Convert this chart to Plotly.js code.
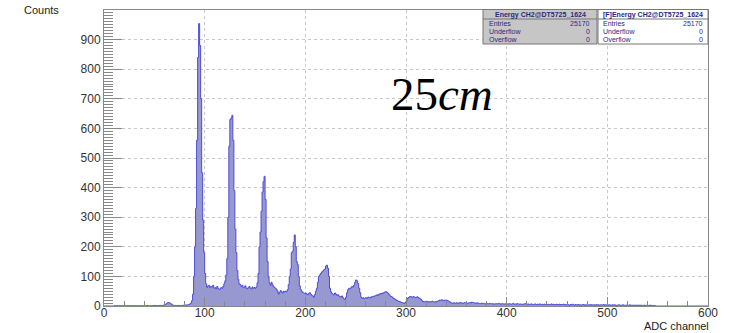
<!DOCTYPE html>
<html>
<head>
<meta charset="utf-8">
<script src="https://cdn.plot.ly/plotly-3.0.1.min.js"></script>
<style>html,body{margin:0;padding:0;background:#fff;}#chart{width:730px;height:333px;}</style>
</head>
<body>
<div id="chart"></div>
<script>
// Histogram counts per ADC channel (bin width 1, channels 0..599)
const counts = [
 0,0,0,0,0,0,0,0,0,0,
 1,0,1,1,0,1,1,0,1,1,
 1,1,0,1,1,1,0,1,1,1,
 1,1,1,0,1,1,1,1,0,1,
 1,1,1,2,1,1,1,1,1,2,
 1,2,1,1,2,1,2,2,2,3,
 4,6,9,11,12,10,8,5,3,2,
 2,2,1,2,2,1,2,2,2,3,
 3,3,4,4,5,7,10,18,40,100,
 200,330,560,840,954,880,700,450,290,180,
 110,75,62,68,70,62,66,64,70,60,
 62,58,66,60,56,58,62,60,66,75,
 85,105,160,300,540,630,635,644,560,390,
 260,180,120,90,75,72,66,70,62,64,
 68,60,58,62,66,60,58,64,60,62,
 60,64,78,110,200,250,320,385,420,438,
 360,230,150,100,78,70,80,72,66,62,
 60,56,50,40,46,52,48,44,50,47,
 50,48,55,72,100,125,180,185,215,240,
 200,150,140,100,68,56,50,46,44,42,
 44,40,38,42,45,40,36,34,30,38,
 50,60,80,100,105,110,115,118,122,125,
 135,138,128,100,60,48,42,40,38,44,
 40,36,38,34,32,30,34,28,24,22,
 30,45,55,60,58,62,66,64,70,80,
 88,85,76,60,45,30,26,28,25,27,
 28,26,30,29,27,31,30,33,32,35,
 36,38,35,40,42,40,44,43,46,48,
 48,46,42,38,34,32,30,26,25,22,
 20,18,16,15,14,12,11,10,9,12,
 18,26,28,30,32,31,29,32,30,28,
 30,31,28,26,24,20,16,15,14,15,
 16,14,15,13,14,15,16,14,13,15,
 14,16,18,20,19,21,20,18,20,19,
 20,18,16,14,12,10,9,11,10,9,
 11,10,9,12,10,11,9,10,12,11,
 10,9,11,12,10,13,12,11,10,9,
 11,10,9,8,9,10,8,9,7,8,
 9,8,7,9,8,7,8,6,7,8,
 7,8,9,7,6,8,7,7,6,8,
 7,6,8,7,6,7,9,6,7,6,
 8,7,6,7,6,5,7,6,8,7,
 6,7,5,6,7,6,5,6,7,5,
 6,5,7,6,5,6,4,6,5,6,
 5,6,4,5,7,5,6,4,5,6,
 5,4,6,5,4,5,6,4,5,4,
 5,4,3,5,4,6,4,3,5,4,
 4,5,3,4,3,4,5,3,4,3,
 4,3,4,5,3,4,3,4,3,5,
 3,4,3,4,4,3,5,3,4,3,
 4,3,4,3,3,4,3,4,3,2,
 3,4,3,2,3,4,3,2,3,3,
 2,3,4,2,3,2,3,3,2,3,
 2,3,2,3,2,2,3,2,2,3,
 2,2,3,2,2,1,2,1
];
const nBins = 600;
const xTickVals = [0,100,200,300,400,500,600];
const yTickVals = [0,100,200,300,400,500,600,700,800,900];
const statTitle1 = "Energy CH2@DT5725_1624";
const statTitle2 = "[F]Energy CH2@DT5725_1624";
const statLabels = ["Entries","Underflow","Overflow"];
const statValues1 = ["25170","0","0"];
const statValues2 = ["25170","0","0"];

// build step histogram
const xs = [], ys = [];
for (let i = 0; i < nBins; i++) {
  xs.push(i);
  ys.push(i < counts.length ? counts[i] : 0);
}
xs.push(nBins); ys.push(ys[ys.length-1]);

// plot area in pixels
const L = 104, R = 708, T = 10, B = 306;
const px = x => (x - L) / (R - L);
const py = y => (B - y) / (B - T);

const font = "Liberation Sans, Arial, sans-serif";
const boxText = "#2a2a80";

const shapes = [
  {type:'rect', xref:'paper', yref:'paper', x0:px(483), x1:px(597), y0:py(44), y1:py(9.5), fillcolor:'#c6c6c6', line:{color:'#777', width:1}, layer:'above'},
  {type:'line', xref:'paper', yref:'paper', x0:px(483), x1:px(597), y0:py(19), y1:py(19), line:{color:'#777', width:1}, layer:'above'},
  {type:'rect', xref:'paper', yref:'paper', x0:px(598), x1:px(708), y0:py(44), y1:py(9.5), fillcolor:'#ffffff', line:{color:'#777', width:1}, layer:'above'},
  {type:'line', xref:'paper', yref:'paper', x0:px(598), x1:px(708), y0:py(19), y1:py(19), line:{color:'#777', width:1}, layer:'above'}
];

const ann = [];
ann.push({xref:'paper', yref:'paper', x:px(540), y:py(14.5), text:'<b>'+statTitle1+'</b>', showarrow:false, xanchor:'center', yanchor:'middle', font:{family:font, size:7, color:boxText}});
ann.push({xref:'paper', yref:'paper', x:px(653), y:py(14.5), text:'<b>'+statTitle2+'</b>', showarrow:false, xanchor:'center', yanchor:'middle', font:{family:font, size:7, color:boxText}});
const rowY = [23.5, 31.5, 39.5];
for (let k = 0; k < statLabels.length; k++) {
  ann.push({xref:'paper', yref:'paper', x:px(487), y:py(rowY[k]), text:statLabels[k], showarrow:false, xanchor:'left', yanchor:'middle', font:{family:font, size:7, color:boxText}});
  ann.push({xref:'paper', yref:'paper', x:px(592), y:py(rowY[k]), text:statValues1[k], showarrow:false, xanchor:'right', yanchor:'middle', font:{family:font, size:7, color:boxText}});
  ann.push({xref:'paper', yref:'paper', x:px(601), y:py(rowY[k]), text:statLabels[k], showarrow:false, xanchor:'left', yanchor:'middle', font:{family:font, size:7, color:boxText}});
  ann.push({xref:'paper', yref:'paper', x:px(705), y:py(rowY[k]), text:statValues2[k], showarrow:false, xanchor:'right', yanchor:'middle', font:{family:font, size:7, color:boxText}});
}
ann.push({xref:'paper', yref:'paper', x:px(41), y:py(10), text:'Counts', showarrow:false, xanchor:'center', yanchor:'middle', font:{family:font, size:11, color:'#222'}});
ann.push({xref:'paper', yref:'paper', x:px(711), y:py(326), text:'ADC channel', showarrow:false, xanchor:'right', yanchor:'middle', font:{family:font, size:11, color:'#222'}});
ann.push({xref:'paper', yref:'paper', x:px(442), y:py(94), text:'25<i>cm</i>', showarrow:false, xanchor:'center', yanchor:'middle', font:{family:'Liberation Serif, DejaVu Serif, serif', size:47, color:'#000'}});

const trace = {
  x: xs, y: ys, type:'scatter', mode:'lines',
  line:{shape:'hv', color:'rgb(75,75,220)', width:1},
  fill:'tozeroy', fillcolor:'rgb(152,152,208)',
  hoverinfo:'skip'
};

const layout = {
  width:730, height:333,
  margin:{l:L, r:730-R, t:T, b:333-B, pad:0},
  paper_bgcolor:'#fff', plot_bgcolor:'#fff',
  showlegend:false,
  font:{family:font, size:12, color:'#333'},
  xaxis:{
    range:[0,600], tickmode:'array', tickvals:xTickVals,
    ticks:'inside', ticklen:9, tickcolor:'#888', tickwidth:1,
    ticklabelstandoff:-4,
    showgrid:true, gridcolor:'#c8c8c8', griddash:'3px,3px', gridwidth:1,
    showline:true, linecolor:'#888', linewidth:1, mirror:true,
    zeroline:false, tickfont:{family:font, size:12, color:'#333'},
    minor:{dtick:20, tick0:0, ticks:'inside', ticklen:5, tickcolor:'#888', showgrid:false}
  },
  yaxis:{
    range:[0,1000], tickmode:'array', tickvals:yTickVals,
    ticks:'inside', ticklen:18, tickcolor:'#888', tickwidth:1,
    showgrid:true, gridcolor:'#c8c8c8', griddash:'3px,3px', gridwidth:1,
    showline:true, linecolor:'#888', linewidth:1, mirror:true,
    zeroline:false, tickfont:{family:font, size:12, color:'#333'},
    minor:{dtick:10, tick0:0, ticks:'inside', ticklen:9, tickcolor:'#888', showgrid:false}
  },
  shapes: shapes,
  annotations: ann
};

Plotly.newPlot('chart', [trace], layout, {displayModeBar:false, staticPlot:true});
</script>
</body>
</html>
